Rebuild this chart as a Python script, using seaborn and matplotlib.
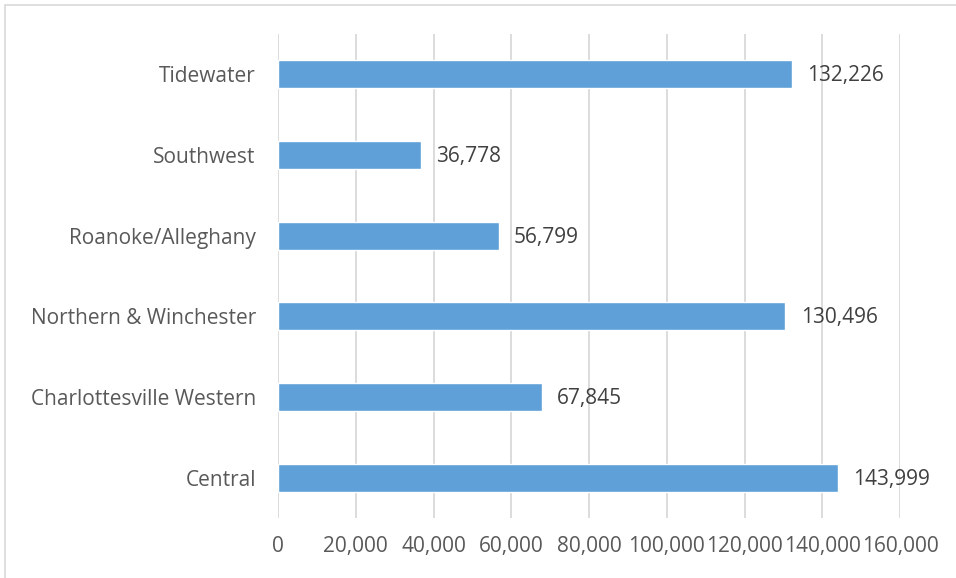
import matplotlib
matplotlib.use("Agg")
import matplotlib.pyplot as plt
import matplotlib.patches as mpatches
import seaborn as sns
import pandas as pd

regions = ["Tidewater", "Southwest", "Roanoke/Alleghany", "Northern & Winchester",
           "Charlottesville Western", "Central"]
counts = [132226, 36778, 56799, 130496, 67845, 143999]
xticks = [0, 20000, 40000, 60000, 80000, 100000, 120000, 140000, 160000]

df = pd.DataFrame({"region": regions, "count": counts})

sns.set_theme(style="white")
plt.rcParams["font.family"] = ["Open Sans", "DejaVu Sans"]

W, H = 956, 578
fig = plt.figure(figsize=(W / 100, H / 100), dpi=100)
ax = fig.add_axes([278 / W, 1 - 518 / H, (900 - 278) / W, (518 - 34) / H])

sns.barplot(data=df, x="count", y="region", orient="h", color="#5FA0D8",
            saturation=1, width=0.35, ax=ax, zorder=3)

ax.set_xlim(0, 160000)
ax.set_xticks(xticks)
ax.set_xticklabels([f"{v:,}" for v in xticks])
ax.xaxis.grid(True, color="#D9D9D9", linewidth=1.3, zorder=0)
ax.yaxis.grid(False)
for s in ax.spines.values():
    s.set_visible(False)
ax.tick_params(axis="both", length=0, labelsize=15, labelcolor="#595959")
ax.tick_params(axis="x", pad=13)
ax.tick_params(axis="y", pad=16)
ax.set_xlabel("")
ax.set_ylabel("")

for i, v in enumerate(counts):
    ax.annotate(f"{v:,}", xy=(v, i), xytext=(11, -1), textcoords="offset points",
                va="center", ha="left", fontsize=15, color="#404040")

# light frame around the chart area
fig.patches.append(mpatches.Rectangle((5 / W, -0.1), 1.1, 1 - 5 / H + 0.1,
                                      transform=fig.transFigure, fill=False,
                                      edgecolor="#D9D9D9", linewidth=1.2))

fig.savefig("out.png", dpi=100)
